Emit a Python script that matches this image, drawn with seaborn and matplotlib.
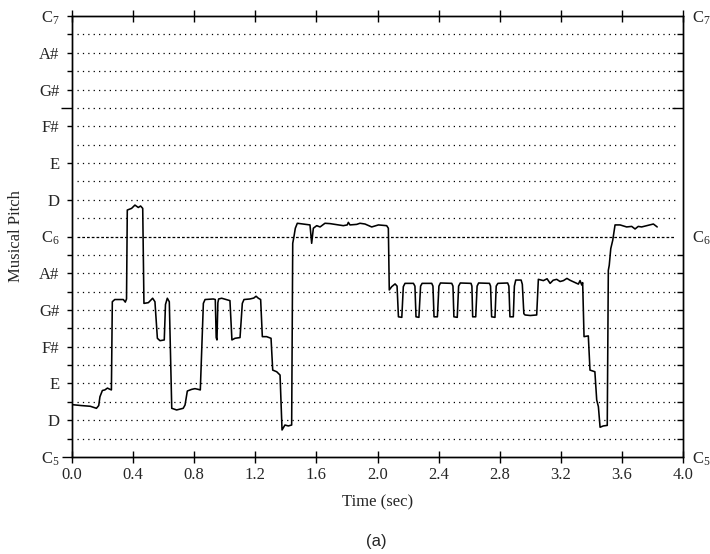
import matplotlib
matplotlib.use("Agg")
import matplotlib.pyplot as plt
import seaborn as sns
import pandas as pd

# ---------------- data (pitch in semitones above C5) ----------------
time_sec = [
    0.000, 0.060, 0.120, 0.160, 0.175, 0.183, 0.199, 0.215, 0.232, 0.244, 0.258,
    0.264, 0.280, 0.336, 0.349, 0.357,
    0.362, 0.390, 0.412, 0.434, 0.449, 0.463,
    0.471, 0.500, 0.528, 0.543, 0.559, 0.576, 0.604, 0.612, 0.624, 0.637,
    0.653, 0.685, 0.728, 0.740, 0.755, 0.783, 0.805, 0.827, 0.840,
    0.860, 0.871, 0.925, 0.938, 0.944, 0.949, 0.955, 0.960, 0.980, 1.034,
    1.047, 1.067, 1.100, 1.115, 1.126, 1.165, 1.190, 1.205, 1.220, 1.235,
    1.246, 1.274, 1.303, 1.314, 1.340, 1.362, 1.375, 1.394, 1.416, 1.438,
    1.445, 1.453, 1.462, 1.475, 1.514, 1.558, 1.569, 1.580, 1.602, 1.624,
    1.656, 1.690, 1.722, 1.776, 1.802, 1.809, 1.820, 1.864, 1.885, 1.918,
    1.962, 2.006, 2.060, 2.071,
    2.077, 2.093, 2.115, 2.128, 2.137, 2.159, 2.169, 2.180, 2.235,
    2.245, 2.252, 2.271, 2.282, 2.292, 2.355,
    2.363, 2.370, 2.392, 2.402, 2.412, 2.486,
    2.494, 2.500, 2.522, 2.531, 2.542, 2.612,
    2.618, 2.623, 2.643, 2.652, 2.662, 2.733,
    2.740, 2.747, 2.769, 2.777, 2.788, 2.852,
    2.860, 2.867, 2.889, 2.896, 2.905, 2.940,
    2.948, 2.958, 2.966, 3.000, 3.042,
    3.053, 3.086, 3.110, 3.130, 3.150, 3.173, 3.195, 3.217, 3.240, 3.260,
    3.293, 3.315, 3.326, 3.337, 3.343,
    3.352, 3.380, 3.391, 3.423, 3.435, 3.446, 3.457, 3.478, 3.504,
    3.511, 3.517, 3.527, 3.540, 3.555, 3.588, 3.631, 3.664, 3.686, 3.707,
    3.729, 3.762, 3.806, 3.831,
]
pitch_semitones = [
    2.85, 2.80, 2.76, 2.65, 2.80, 3.28, 3.62, 3.65, 3.75, 3.70, 3.65,
    8.45, 8.57, 8.57, 8.43, 8.60,
    13.44, 13.53, 13.71, 13.58, 13.66, 13.53,
    8.36, 8.40, 8.64, 8.45, 6.46, 6.33, 6.37, 8.30, 8.64, 8.45,
    2.65, 2.56, 2.65, 2.83, 3.59, 3.68, 3.72, 3.68, 3.65,
    8.36, 8.57, 8.60, 8.57, 6.50, 6.37, 8.40, 8.60, 8.64, 8.51,
    6.37, 6.46, 6.50, 8.36, 8.57, 8.60, 8.65, 8.75, 8.64, 8.57,
    6.55, 6.55, 6.46, 4.73, 4.64, 4.46, 1.47, 1.74, 1.69, 1.74,
    11.63, 11.99, 12.45, 12.72, 12.68, 12.63, 11.63, 12.45, 12.59, 12.52,
    12.72, 12.70, 12.66, 12.59, 12.63, 12.77, 12.63, 12.66, 12.72, 12.68,
    12.52, 12.63, 12.59, 12.45,
    9.09, 9.27, 9.42, 9.30, 7.63, 7.60, 9.27, 9.45, 9.45,
    9.30, 7.63, 7.60, 9.30, 9.45, 9.45,
    9.30, 7.63, 7.63, 9.30, 9.47, 9.45,
    9.30, 7.63, 7.60, 9.30, 9.47, 9.45,
    9.30, 7.63, 7.63, 9.30, 9.47, 9.45,
    9.30, 7.63, 7.60, 9.30, 9.45, 9.47,
    9.30, 7.63, 7.63, 9.30, 9.63, 9.63,
    9.40, 7.80, 7.73, 7.70, 7.73,
    9.67, 9.60, 9.70, 9.45, 9.62, 9.67, 9.55, 9.60, 9.72, 9.62,
    9.49, 9.41, 9.60, 9.36, 9.49,
    6.55, 6.59, 4.73, 4.64, 3.10, 2.74, 1.62, 1.69, 1.72,
    10.16, 10.43, 11.34, 11.80, 12.63, 12.63, 12.52, 12.55, 12.41, 12.55,
    12.52, 12.59, 12.68, 12.52,
]

x_ticks = [0.0, 0.4, 0.8, 1.2, 1.6, 2.0, 2.4, 2.8, 3.2, 3.6, 4.0]
x_tick_labels = ["0.0", "0.4", "0.8", "1.2", "1.6", "2.0", "2.4", "2.8", "3.2", "3.6", "4.0"]
left_label_pos = [0, 2, 4, 6, 8, 10, 12, 14, 16, 18, 20, 22, 24]
left_labels = [r"C$_5\;\,$", "D", "E", "F#", "G#", "A#", r"C$_6\;\,$",
               "D", "E", "F#", "G#", "A#", r"C$_7\;\,$"]
right_label_pos = [0, 12, 24]
right_labels = [r"C$_5$", r"C$_6$", r"C$_7$"]
grid_semitones = list(range(1, 24))
left_minor_pos = [1, 3, 5, 7, 9, 11, 19, 21, 23]
right_minor_pos = [1, 2, 3, 4, 5, 6, 7, 8, 9, 10, 11, 19, 20, 21, 22, 23]

# ---------------- style ----------------
sns.set_style("ticks")
plt.rcParams["font.family"] = ["Liberation Serif", "DejaVu Serif"]
plt.rcParams["mathtext.fontset"] = "custom"
plt.rcParams["mathtext.rm"] = "Liberation Serif"
plt.rcParams["mathtext.it"] = "Liberation Serif:italic"
plt.rcParams["mathtext.bf"] = "Liberation Serif:bold"

fig = plt.figure(figsize=(7.1, 5.54), dpi=100)
ax = fig.add_axes([0.1014, 0.1751, 0.8606, 0.7960])

# horizontal semitone guide lines
for s in grid_semitones:
    ls = (0, (2.2, 1.6)) if s == 12 else (0, (1, 3.3))
    ax.hlines(s, 0.03, 3.95, color="black", lw=0.9, linestyle=ls, zorder=1)

df = pd.DataFrame({"time": time_sec, "pitch": pitch_semitones})
sns.lineplot(data=df, x="time", y="pitch", sort=False, estimator=None,
             color="black", lw=1.15, ax=ax, zorder=3)

ax.set_xlim(0, 4)
ax.set_ylim(0, 24)
for sp in ax.spines.values():
    sp.set_visible(True)
    sp.set_linewidth(1.0)
    sp.set_color("black")

ax.set_xticks(x_ticks, x_tick_labels)
ax.tick_params(axis="x", which="major", direction="inout", length=8, width=1,
               top=True, bottom=True, labelsize=12, pad=3.5, color="black")

ax.set_yticks(left_label_pos, left_labels)
ax.tick_params(axis="y", which="major", direction="out", length=3.6, width=1,
               left=True, right=False, labelsize=12, pad=5.5, color="black")
ax.set_yticks(left_minor_pos, minor=True)
ax.tick_params(axis="y", which="minor", direction="out", length=3.6, width=1,
               left=True, right=False, color="black")
for tick, pos in zip(ax.yaxis.get_major_ticks(), left_label_pos):
    if 12 <= pos <= 18:
        tick.tick1line.set_visible(False)
    if pos == 0:
        tick.tick1line.set_markersize(7.5)
for tick, pos in zip(ax.yaxis.get_minor_ticks(), left_minor_pos):
    if pos == 19:
        tick.tick1line.set_markersize(8)

ax.set_xlabel("Time (sec)", fontsize=12)
ax.xaxis.set_label_coords(0.5, -0.102)
ax.xaxis.label.set_va("center")
ax.set_ylabel("Musical Pitch", fontsize=12)
ax.yaxis.set_label_coords(-0.0923, 0.5)
ax.yaxis.label.set_va("center")

# right-hand axis
ax2 = ax.twinx()
ax2.set_ylim(0, 24)
ax2.set_yticks(right_label_pos, right_labels)
ax2.tick_params(axis="y", which="major", direction="in", length=0, width=1,
                right=True, labelsize=12, pad=6.3, color="black")
ax2.set_yticks(right_minor_pos, minor=True)
ax2.tick_params(axis="y", which="minor", direction="in", length=4.3, width=1,
                right=True, color="black")
for tick, pos in zip(ax2.yaxis.get_minor_ticks(), right_minor_pos):
    if pos == 19:
        tick.tick2line.set_markersize(8)
for sp in ax2.spines.values():
    sp.set_linewidth(1.0)
    sp.set_color("black")

fig.text(0.5296, 0.0217, "(a)", ha="center", va="center", fontsize=12,
         family=["Liberation Sans", "DejaVu Sans"])

fig.savefig("out.png", dpi=100)
